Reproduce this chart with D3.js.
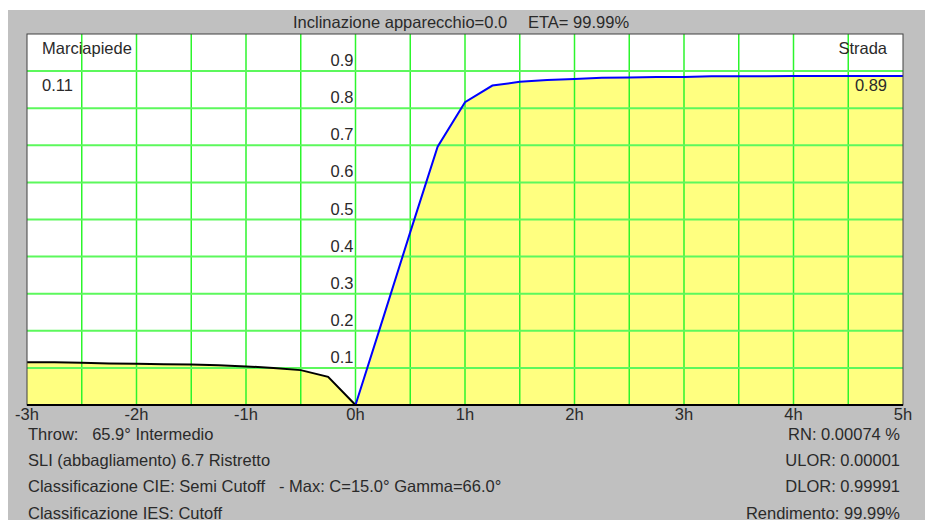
<!DOCTYPE html>
<html><head><meta charset="utf-8">
<script src="https://cdn.jsdelivr.net/npm/d3@7/dist/d3.min.js"></script>
<style>
html,body{margin:0;padding:0;background:#fff;}
svg text{font-family:"Liberation Sans",Arial,sans-serif;font-size:16.5px;fill:#2a2a2a;white-space:pre;}
</style></head>
<body>
<svg id="c" width="925" height="520"></svg>
<script>
// ---- data ----
const leftH = [-3,-2.75,-2.5,-2.25,-2,-1.75,-1.5,-1.25,-1,-0.75,-0.5,-0.25,0];
const leftU = [0.115,0.115,0.114,0.112,0.111,0.110,0.109,0.107,0.104,0.100,0.094,0.076,0];
const rightH = [0,0.25,0.5,0.75,1,1.25,1.5,1.75,2,2.25,2.5,2.75,3,3.25,3.5,3.75,4,4.25,4.5,4.75,5];
const rightU = [0,0.232,0.466,0.696,0.816,0.861,0.871,0.876,0.879,0.882,0.883,0.884,0.884,0.886,0.886,0.886,0.887,0.887,0.887,0.887,0.887];
const xTickVals = [-3,-2,-1,0,1,2,3,4,5];
const xTickLabels = ["-3h","-2h","-1h","0h","1h","2h","3h","4h","5h"];
const yTickVals = [0.1,0.2,0.3,0.4,0.5,0.6,0.7,0.8,0.9];
const yTickLabels = ["0.1","0.2","0.3","0.4","0.5","0.6","0.7","0.8","0.9"];
const xGrid = [-2.5,-2,-1.5,-1,-0.5,0,0.5,1,1.5,2,2.5,3,3.5,4,4.5];
const titleA = "Inclinazione apparecchio=0.0";
const titleB = "ETA= 99.99%";
const sideLeft = ["Marciapiede","0.11"];
const sideRight = ["Strada","0.89"];
const infoLeft = ["Throw:   65.9° Intermedio","SLI (abbagliamento) 6.7 Ristretto","Classificazione CIE: Semi Cutoff   - Max: C=15.0° Gamma=66.0°","Classificazione IES: Cutoff"];
const infoRight = ["RN: 0.00074 %","ULOR: 0.00001","DLOR: 0.99991","Rendimento: 99.99%"];

const svg = d3.select("#c");
const L=27,R=903,T=34,B=405;
const x = d3.scaleLinear([-3,5],[L,R]);
const y = d3.scaleLinear([0,1],[B,T]);

svg.append("rect").attr("x",8).attr("y",10).attr("width",917).attr("height",510).attr("fill","#c0c0c0");
svg.append("rect").attr("x",L).attr("y",T).attr("width",R-L).attr("height",B-T).attr("fill","#fff");

const leftData = leftH.map((h,i)=>[h,leftU[i]]);
const rightData = rightH.map((h,i)=>[h,rightU[i]]);
const area = d3.area().x(d=>x(d[0])).y0(y(0)).y1(d=>y(d[1]));
const line = d3.line().x(d=>x(d[0])).y(d=>y(d[1]));
svg.append("path").attr("d",area(leftData)).attr("fill","#ffff80");
svg.append("path").attr("d",area(rightData)).attr("fill","#ffff80");

// grid
const g = svg.append("g");
g.selectAll(".vg").data(xGrid).join("line")
 .attr("x1",d=>x(d)).attr("x2",d=>x(d)).attr("y1",T).attr("y2",B)
 .attr("stroke","#2cf52c").attr("stroke-width",1.5);
g.selectAll(".hg").data(yTickVals).join("line")
 .attr("x1",L).attr("x2",R).attr("y1",d=>y(d)).attr("y2",d=>y(d))
 .attr("stroke","#5cf85c").attr("stroke-width",2);

svg.append("path").attr("d",line(leftData)).attr("fill","none").attr("stroke","#000").attr("stroke-width",2);
svg.append("path").attr("d",line(rightData)).attr("fill","none").attr("stroke","#0000ff").attr("stroke-width",2);

// border
svg.append("rect").attr("x",L).attr("y",T).attr("width",R-L).attr("height",B-T).attr("fill","none").attr("stroke","#404040").attr("stroke-width",1);
svg.append("line").attr("x1",L).attr("x2",R).attr("y1",B).attr("y2",B).attr("stroke","#000").attr("stroke-width",2);

// y labels
svg.selectAll(".yl").data(yTickVals).join("text")
 .attr("x",x(0)-2).attr("y",d=>y(d)-5).attr("text-anchor","end")
 .text((d,i)=>yTickLabels[i]);
// x labels
svg.selectAll(".xl").data(xTickVals).join("text")
 .attr("x",d=>x(d)).attr("y",420).attr("text-anchor","middle")
 .text((d,i)=>xTickLabels[i]);

// title
svg.append("text").attr("x",293).attr("y",28).text(titleA);
svg.append("text").attr("x",528).attr("y",28).text(titleB);

svg.append("text").attr("x",42).attr("y",54).text(sideLeft[0]);
svg.append("text").attr("x",42).attr("y",91).text(sideLeft[1]);
svg.append("text").attr("x",887).attr("y",54).attr("text-anchor","end").text(sideRight[0]);
svg.append("text").attr("x",887).attr("y",91).attr("text-anchor","end").text(sideRight[1]);

infoLeft.forEach((t,i)=>svg.append("text").attr("x",28).attr("y",440+i*26.2).text(t));
infoRight.forEach((t,i)=>svg.append("text").attr("x",900).attr("y",440+i*26.2).attr("text-anchor","end").text(t));
</script>
</body></html>
